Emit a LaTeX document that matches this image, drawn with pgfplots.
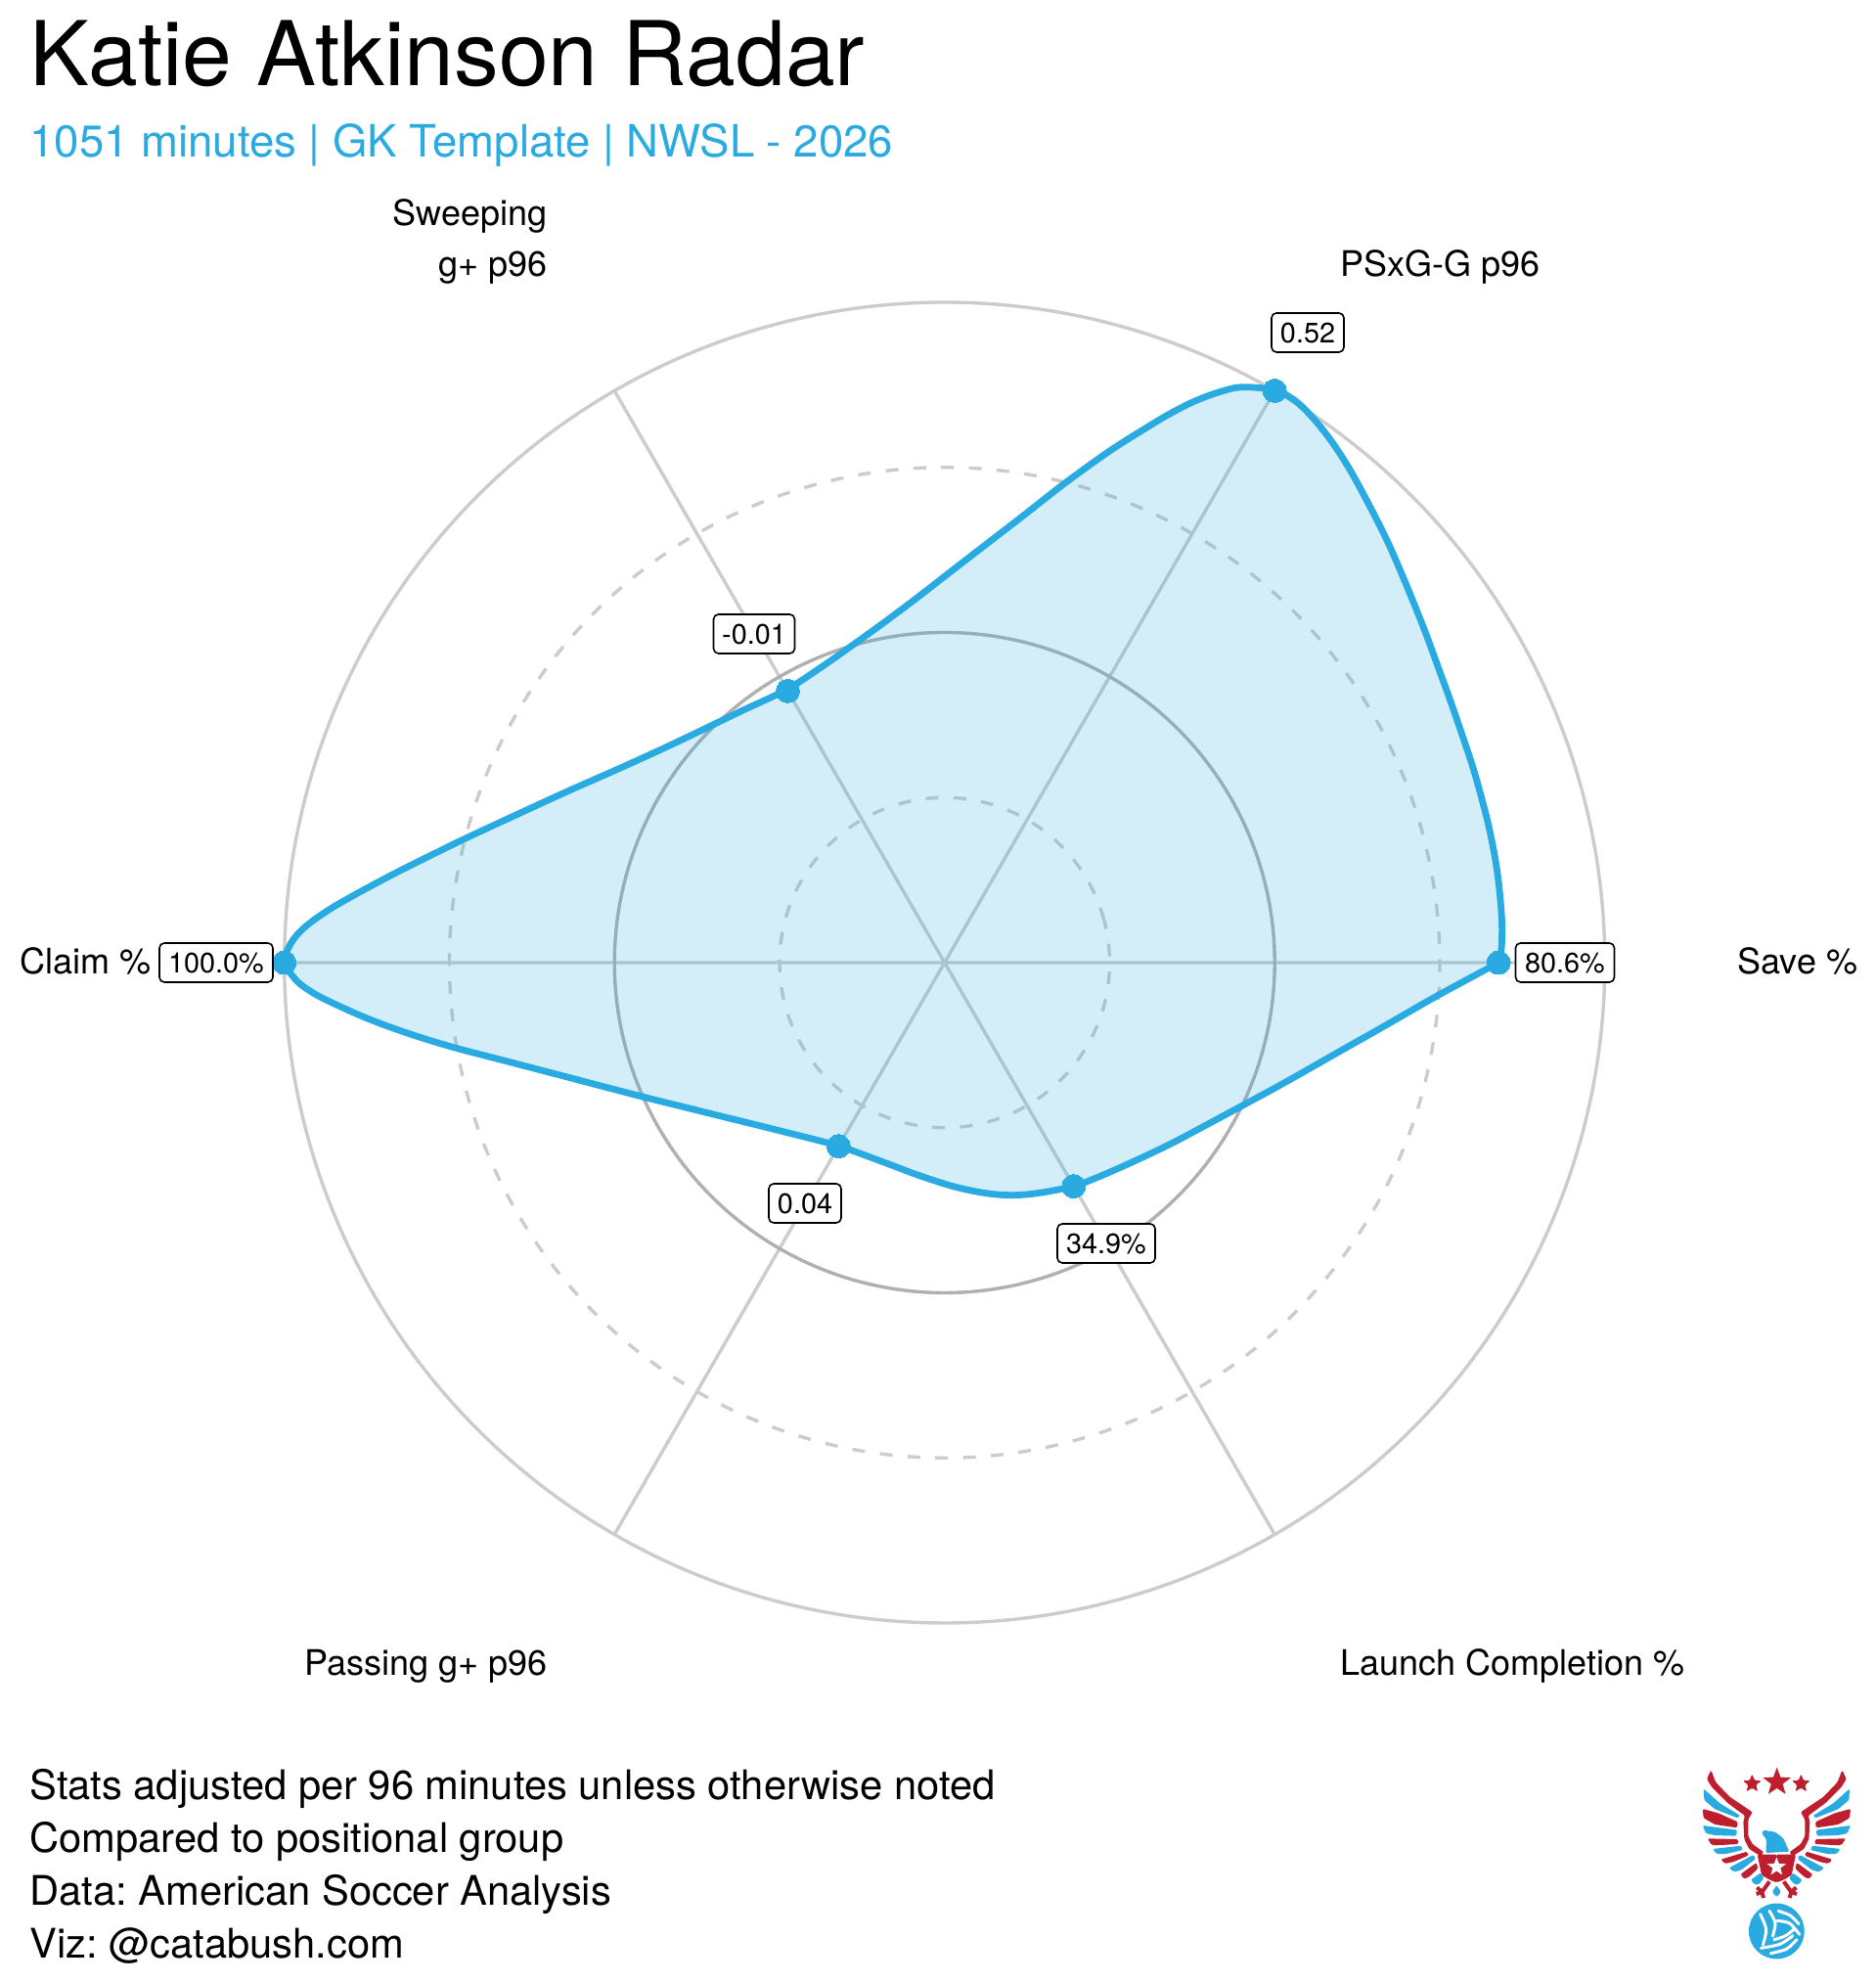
\documentclass[border=0pt]{standalone}
\usepackage{fontspec}
\setmainfont{TeX Gyre Heros}
\usepackage{pgfplots}
\usepackage{pgfplotstable}
\pgfplotsset{compat=1.18}
\usetikzlibrary{shapes.geometric}
\definecolor{radar}{HTML}{29ABE2}
\definecolor{eaglered}{HTML}{BE1E2D}
\definecolor{gridc}{HTML}{CCCCCC}
\definecolor{gridd}{HTML}{B0B0B0}

% radar values, % of the outer ring
\pgfplotstableread{
angle r
0 83.9
60 100
120 47.5
180 100
240 32.1
300 39.1
}\radarpts

% spokes
\pgfplotstableread{
a b
0 0
100 0
nan nan
0 0
50 86.603
nan nan
0 0
-50 86.603
nan nan
0 0
-100 0
nan nan
0 0
-50 -86.603
nan nan
0 0
50 -86.603
}\spokes

% unit ring
\pgfplotstableread{
c s
1 0
0.96593 0.25882
0.86603 0.5
0.70711 0.70711
0.5 0.86603
0.25882 0.96593
0 1
-0.25882 0.96593
-0.5 0.86603
-0.70711 0.70711
-0.86603 0.5
-0.96593 0.25882
-1 0
-0.96593 -0.25882
-0.86603 -0.5
-0.70711 -0.70711
-0.5 -0.86603
-0.25882 -0.96593
0 -1
0.25882 -0.96593
0.5 -0.86603
0.70711 -0.70711
0.86603 -0.5
0.96593 -0.25882
}\ring

% outline, in pixels
\pgfplotstableread{
px py
1532.3 984
1535 970
1535.5 943
1533 910
1529 880
1522.5 846.7
1515 816.7
1505.5 783.3
1495 751.7
1483.5 718.3
1469.6 680
1456.7 645
1440 603.3
1420 556.7
1400 516.7
1380 480
1361.7 451.7
1343.3 428.3
1326.7 411.7
1313.3 402.7
1303 398.3
1270 395.7
1246.7 400.7
1220 410.7
1193.3 424.5
1166.7 440.5
1136.7 459.5
1110 478.3
1083.3 498
1046.7 526.7
1010 555
973.3 583.3
936.7 611.7
903.3 636.7
873.3 658.3
840 681.7
804 705
759 726.3
724.5 743
683.2 762.7
635 784.7
580 809
524.8 834.3
473.2 858.3
431.8 878.6
397.4 896
363 914.5
335.4 930.5
311.3 948
297.5 964
290 984
297 995
307 1006
323.6 1017
346.5 1028.3
377.2 1041.7
415.4 1055.7
461.4 1070
518.8 1085
576.2 1100
652.7 1120
729.2 1139
805.8 1158
856.7 1171.3
900 1186.7
940 1201.7
976.7 1213.3
1010 1220
1036.7 1221.7
1063.3 1219.3
1097 1212.7
1120 1204.3
1156.7 1188.3
1196.7 1169.3
1230 1151.7
1266.7 1132
1313.3 1106.7
1363.3 1078.3
1413.3 1050
1470 1017.5
1532.3 984
}\outline

\newcommand{\fs}[1]{\fontsize{#1}{#1}\selectfont}

\begin{document}
\frenchspacing
\begin{tikzpicture}
\path[use as bounding box] (0,0) rectangle (958.5pt,1013.5pt);
\begin{axis}[
    scale only axis,
    width=958.5pt,
    height=1013.5pt,
    xmin=-143.07, xmax=140.93,
    ymin=-154.52, ymax=145.78,
    hide axis,
    clip=false,
    unbounded coords=jump,
]
\addplot[gridc, line width=1.7pt, no marks] table[x=a, y=b] {\spokes};

\addplot[gridc, line width=1.7pt, dash pattern=on 6.5pt off 7.7pt, no marks, /tikz/smooth cycle, tension=0.61] table[x expr=\thisrow{c}*25, y expr=\thisrow{s}*25] {\ring};
\addplot[gridd, line width=1.7pt, no marks, /tikz/smooth cycle, tension=0.61] table[x expr=\thisrow{c}*50, y expr=\thisrow{s}*50] {\ring};
\addplot[gridc, line width=1.7pt, dash pattern=on 6.5pt off 7.7pt, no marks, /tikz/smooth cycle, tension=0.61] table[x expr=\thisrow{c}*75, y expr=\thisrow{s}*75] {\ring};
\addplot[gridc, line width=1.7pt, no marks, /tikz/smooth cycle, tension=0.61] table[x expr=\thisrow{c}*100, y expr=\thisrow{s}*100] {\ring};

\addplot[draw=none, fill=radar, fill opacity=0.2, no marks, smooth, tension=0.55] table[x expr=(\thisrow{px}-965.7)/6.75, y expr=(984-\thisrow{py})/6.75] {\outline};
\addplot[radar, line width=3.4pt, line join=round, no marks, smooth, tension=0.55] table[x expr=(\thisrow{px}-965.7)/6.75, y expr=(984-\thisrow{py})/6.75] {\outline};
\addplot[radar, only marks, mark=*, mark size=6pt, mark options={fill=radar, draw=radar, line width=0pt}] table[x expr=\thisrow{r}*cos(\thisrow{angle}), y expr=\thisrow{r}*sin(\thisrow{angle})] {\radarpts};
\end{axis}

% text, in pixels from the top left of the picture
\begin{scope}[x=0.5pt, y=-0.5pt, shift={(0,1013.5pt)},
    txt/.style={inner sep=0pt, anchor=base west},
    txr/.style={inner sep=0pt, anchor=base east},
    val/.style={draw=black, line width=0.8pt, rounded corners=2.5pt, fill=white, inner sep=0pt, minimum height=20pt, font=\fs{14.4}, text height=10.3pt, text depth=0pt}]
\node[txt, font=\fs{45.64}] at (30,88) {Katie Atkinson Radar};
\node[txt, font=\fs{22.77}, text=radar] at (30,161) {1051 minutes | GK Template | NWSL - 2026};

\node[txr, font=\fs{18}] at (560,231) {Sweeping};
\node[txr, font=\fs{18}] at (560,283) {g+ p96};
\node[txt, font=\fs{18}] at (1370,283) {PSxG-G p96};
\node[txt, font=\fs{18}] at (1776,996) {Save \%};
\node[txt, font=\fs{18}] at (20,996) {Claim \%};
\node[txr, font=\fs{18}] at (560,1713) {Passing g+ p96};
\node[txt, font=\fs{18}] at (1370,1713) {Launch Completion \%};

\node[val, minimum width=58pt] at (221,984) {100.0\%};
\node[val, minimum width=50.5pt] at (1600,984) {80.6\%};
\node[val, minimum width=37pt] at (1337,340) {0.52};
\node[val, minimum width=41.5pt] at (771,648) {-0.01};
\node[val, minimum width=37pt] at (823,1230) {0.04};
\node[val, minimum width=50pt] at (1131,1271) {34.9\%};

\node[txt, font=\fs{20.84}] at (30,1839.5) {Stats adjusted per 96 minutes unless otherwise noted};
\node[txt, font=\fs{20.84}] at (30,1893.5) {Compared to positional group};
\node[txt, font=\fs{20.84}] at (30,1947.5) {Data: American Soccer Analysis};
\node[txt, font=\fs{20.84}] at (30,2001.5) {Viz: @catabush.com};
\end{scope}

% logo, units of a third of a pixel, x from the logo's middle
\foreach \s in {1,-1}{
\begin{scope}[shift={(908.17pt,123.5pt)}, x={(\s*0.16667pt,0)}, y={(0,-0.16667pt)}, line join=round, rounded corners=0.7pt]
\fill[eaglered] (-201,88) -- (-187,125) -- (-144,170) -- (-74,217) -- (-87,240) -- (-87,290) -- (-74,315) -- (-39,340) -- (-49,352) -- (-84,330) -- (-99,300) -- (-102,245) -- (-97,228) -- (-149,190) -- (-199,140) -- (-214,115) -- cycle;
\fill[radar] (-224,145) -- (-174,190) -- (-111,228) -- (-119,235) -- (-189,208) -- (-222,180) -- cycle;
\fill[eaglered] (-227,207) -- (-179,220) -- (-119,247) -- (-121,265) -- (-189,255) -- (-224,235) -- cycle;
\fill[radar] (-227,258) -- (-121,272) -- (-124,290) -- (-189,288) -- (-217,282) -- cycle;
\fill[eaglered] (-212,298) -- (-119,300) -- (-117,315) -- (-174,318) -- (-199,318) -- cycle;
\fill[radar] (-196,330) -- (-109,320) -- (-104,333) -- (-154,345) -- (-184,345) -- cycle;
\fill[eaglered] (-171,362) -- (-91,338) -- (-86,350) -- (-134,370) -- (-159,375) -- cycle;
\fill[radar] (-146,388) -- (-71,348) -- (-64,360) -- (-109,395) -- (-131,400) -- cycle;
\fill[eaglered] (-111,408) -- (-62,372) -- (-57,390) -- (-84,415) -- (-99,422) -- cycle;
\fill[radar] (-79,425) -- (-49,403) -- (-39,420) -- (-54,438) -- (-66,440) -- cycle;
\fill[eaglered] (1,347) -- (-59,347) -- (-46,410) -- (-21,425) -- (1,433) -- cycle;
\fill[radar] (1,440) -- (-14,462) -- (1,478) -- cycle;
\draw[eaglered, line width=2pt] (-22,430) -- (-45,462) (-60,448) -- (-45,462) (-62,468) -- (-45,462) (-40,480) -- (-45,462);
\node[star, star points=5, star point ratio=2.4, fill=eaglered, inner sep=0pt, minimum size=10pt] at (-75,130) {};
\end{scope}
}
\begin{scope}[shift={(908.17pt,123.5pt)}, x=0.16667pt, y=-0.16667pt, line join=round]
\fill[radar, rounded corners=0.7pt] (-42,272) -- (-4,278) -- (21,298) -- (39,338) -- (-33,342) -- (-31,300) -- (-44,285) -- cycle;
\node[star, star points=5, star point ratio=2.4, fill=eaglered, inner sep=0pt, minimum size=15pt] at (1,125) {};
\node[star, star points=5, star point ratio=2.4, fill=white, inner sep=0pt, minimum size=10pt] at (0,385) {};
\fill[radar] (0,582) circle (14.2pt);
\begin{scope}[shift={(0,582)}, draw=white, line width=1.5pt, line cap=round]
\draw plot[smooth] coordinates {(-50,-52) (-32,-5) (-42,42)};
\draw plot[smooth] coordinates {(-22,-62) (-4,-25) (-12,15)};
\draw plot[smooth] coordinates {(5,-62) (42,-48) (68,-22)};
\draw plot[smooth] coordinates {(2,-32) (40,-24) (70,10)};
\draw plot[smooth] coordinates {(-8,26) (26,15) (54,-6)};
\draw plot[smooth] coordinates {(-48,52) (10,40) (50,14)};
\draw plot[smooth] coordinates {(-18,68) (30,55) (62,26)};
\end{scope}
\end{scope}
\end{tikzpicture}
\end{document}
